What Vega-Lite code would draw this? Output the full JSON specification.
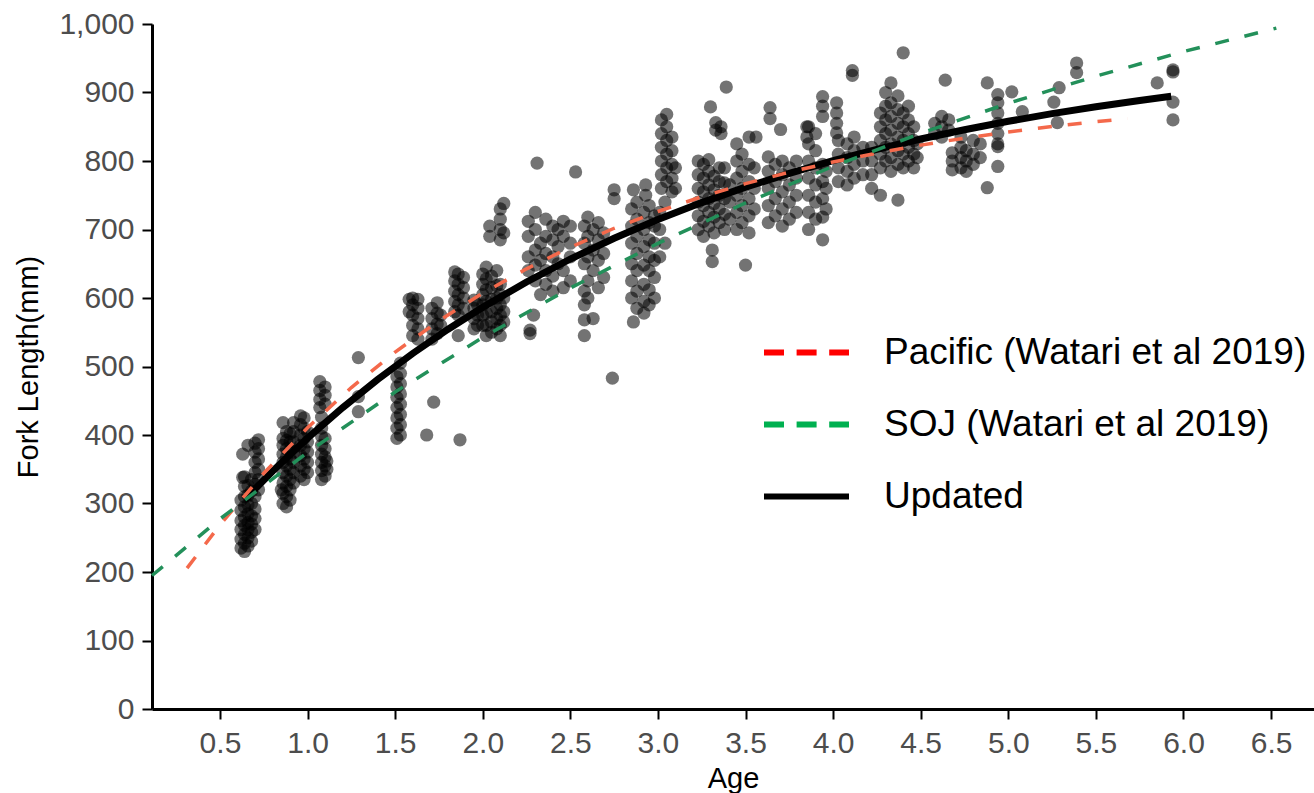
{
  "$schema": "https://vega.github.io/schema/vega-lite/v6.json",
  "autosize": {"type": "none"},
  "width": 1162,
  "height": 685,
  "padding": {"left": 152, "top": 24, "right": 0, "bottom": 84},
  "background": "white",
  "config": {
    "view": {"stroke": null},
    "font": "Liberation Sans",
    "axis": {
      "grid": false,
      "domainColor": "#000000",
      "domainWidth": 3,
      "tickColor": "#000000",
      "tickWidth": 2,
      "tickSize": 10,
      "labelFont": "Liberation Sans",
      "labelFontSize": 30,
      "labelColor": "#4D4D4D",
      "labelPadding": 8,
      "titleFont": "Liberation Sans",
      "titleFontSize": 29,
      "titleFontWeight": "normal",
      "titleColor": "#000000"
    }
  },
  "datasets": {
    "pts": [
      {"age":0.62,"fl":235},{"age":0.62,"fl":248},{"age":0.62,"fl":262},{"age":0.62,"fl":275},{"age":0.62,"fl":290},{"age":0.62,"fl":305},
      {"age":0.63,"fl":338},{"age":0.63,"fl":372},
      {"age":0.64,"fl":230},{"age":0.64,"fl":242},{"age":0.64,"fl":255},{"age":0.64,"fl":268},{"age":0.64,"fl":280},{"age":0.64,"fl":295},{"age":0.64,"fl":310},{"age":0.64,"fl":325},{"age":0.64,"fl":339},
      {"age":0.66,"fl":238},{"age":0.66,"fl":250},{"age":0.66,"fl":262},{"age":0.66,"fl":272},{"age":0.66,"fl":285},{"age":0.66,"fl":298},{"age":0.66,"fl":312},{"age":0.66,"fl":326},{"age":0.66,"fl":385},
      {"age":0.68,"fl":245},{"age":0.68,"fl":258},{"age":0.68,"fl":270},{"age":0.68,"fl":282},{"age":0.68,"fl":300},{"age":0.68,"fl":318},{"age":0.68,"fl":335},
      {"age":0.70,"fl":262},{"age":0.70,"fl":278},{"age":0.70,"fl":292},{"age":0.70,"fl":310},{"age":0.70,"fl":328},{"age":0.70,"fl":345},{"age":0.70,"fl":360},{"age":0.70,"fl":375},{"age":0.70,"fl":388},
      {"age":0.72,"fl":320},{"age":0.72,"fl":335},{"age":0.72,"fl":350},{"age":0.72,"fl":365},{"age":0.72,"fl":380},{"age":0.72,"fl":393},
      {"age":0.85,"fl":320},
      {"age":0.86,"fl":300},{"age":0.86,"fl":315},{"age":0.86,"fl":330},{"age":0.86,"fl":345},{"age":0.86,"fl":360},{"age":0.86,"fl":372},{"age":0.86,"fl":385},{"age":0.86,"fl":395},{"age":0.86,"fl":418},
      {"age":0.88,"fl":295},{"age":0.88,"fl":310},{"age":0.88,"fl":325},{"age":0.88,"fl":340},{"age":0.88,"fl":355},{"age":0.88,"fl":368},{"age":0.88,"fl":380},{"age":0.88,"fl":392},{"age":0.88,"fl":405},
      {"age":0.90,"fl":305},{"age":0.90,"fl":320},{"age":0.90,"fl":335},{"age":0.90,"fl":350},{"age":0.90,"fl":365},{"age":0.90,"fl":378},{"age":0.90,"fl":390},{"age":0.90,"fl":402},
      {"age":0.92,"fl":330},{"age":0.92,"fl":345},{"age":0.92,"fl":360},{"age":0.92,"fl":375},{"age":0.92,"fl":390},{"age":0.92,"fl":405},{"age":0.92,"fl":418},
      {"age":0.96,"fl":340},{"age":0.96,"fl":355},{"age":0.96,"fl":370},{"age":0.96,"fl":385},{"age":0.96,"fl":400},{"age":0.96,"fl":415},{"age":0.96,"fl":428},
      {"age":0.98,"fl":335},{"age":0.98,"fl":350},{"age":0.98,"fl":365},{"age":0.98,"fl":380},{"age":0.98,"fl":395},{"age":0.98,"fl":410},{"age":0.98,"fl":425},
      {"age":1.00,"fl":345},{"age":1.00,"fl":360},{"age":1.00,"fl":375},{"age":1.00,"fl":390},{"age":1.00,"fl":405},
      {"age":1.07,"fl":440},{"age":1.07,"fl":452},{"age":1.07,"fl":465},{"age":1.07,"fl":478},
      {"age":1.08,"fl":335},{"age":1.08,"fl":348},{"age":1.08,"fl":360},{"age":1.08,"fl":372},{"age":1.08,"fl":385},{"age":1.08,"fl":398},{"age":1.08,"fl":410},{"age":1.08,"fl":426},
      {"age":1.10,"fl":445},{"age":1.10,"fl":458},{"age":1.10,"fl":470},{"age":1.10,"fl":340},{"age":1.10,"fl":355},{"age":1.10,"fl":368},{"age":1.10,"fl":380},{"age":1.10,"fl":395},
      {"age":1.11,"fl":350},{"age":1.11,"fl":362},
      {"age":1.29,"fl":513},{"age":1.29,"fl":456},{"age":1.29,"fl":434},
      {"age":1.51,"fl":395},{"age":1.51,"fl":410},{"age":1.51,"fl":425},{"age":1.51,"fl":440},{"age":1.51,"fl":455},{"age":1.51,"fl":470},{"age":1.51,"fl":485},
      {"age":1.53,"fl":400},{"age":1.53,"fl":415},{"age":1.53,"fl":430},{"age":1.53,"fl":445},{"age":1.53,"fl":460},{"age":1.53,"fl":475},{"age":1.53,"fl":490},{"age":1.53,"fl":505},
      {"age":1.58,"fl":598},{"age":1.58,"fl":580},
      {"age":1.60,"fl":545},{"age":1.60,"fl":560},{"age":1.60,"fl":575},{"age":1.60,"fl":590},{"age":1.60,"fl":600},
      {"age":1.63,"fl":540},{"age":1.63,"fl":555},{"age":1.63,"fl":570},{"age":1.63,"fl":585},{"age":1.63,"fl":598},
      {"age":1.68,"fl":400},
      {"age":1.71,"fl":540},{"age":1.71,"fl":555},{"age":1.71,"fl":570},{"age":1.71,"fl":585},
      {"age":1.72,"fl":448},
      {"age":1.74,"fl":548},{"age":1.74,"fl":562},{"age":1.74,"fl":578},{"age":1.74,"fl":593},
      {"age":1.76,"fl":560},{"age":1.76,"fl":575},
      {"age":1.84,"fl":580},{"age":1.84,"fl":595},{"age":1.84,"fl":610},{"age":1.84,"fl":625},{"age":1.84,"fl":638},
      {"age":1.86,"fl":575},{"age":1.86,"fl":590},{"age":1.86,"fl":605},{"age":1.86,"fl":620},{"age":1.86,"fl":635},{"age":1.86,"fl":545},
      {"age":1.87,"fl":393},
      {"age":1.89,"fl":585},{"age":1.89,"fl":600},{"age":1.89,"fl":615},{"age":1.89,"fl":630},
      {"age":1.95,"fl":555},{"age":1.95,"fl":570},{"age":1.95,"fl":585},{"age":1.95,"fl":597},
      {"age":1.97,"fl":560},{"age":1.97,"fl":575},{"age":1.97,"fl":590},
      {"age":2.00,"fl":560},{"age":2.00,"fl":575},{"age":2.00,"fl":590},{"age":2.00,"fl":605},{"age":2.00,"fl":620},{"age":2.00,"fl":635},
      {"age":2.02,"fl":545},{"age":2.02,"fl":560},{"age":2.02,"fl":578},{"age":2.02,"fl":595},{"age":2.02,"fl":612},{"age":2.02,"fl":628},{"age":2.02,"fl":645},
      {"age":2.04,"fl":690},{"age":2.04,"fl":705},
      {"age":2.05,"fl":550},{"age":2.05,"fl":565},{"age":2.05,"fl":580},{"age":2.05,"fl":598},{"age":2.05,"fl":615},{"age":2.05,"fl":632},
      {"age":2.08,"fl":555},{"age":2.08,"fl":570},{"age":2.08,"fl":585},{"age":2.08,"fl":600},{"age":2.08,"fl":618},{"age":2.08,"fl":640},
      {"age":2.10,"fl":545},{"age":2.10,"fl":560},{"age":2.10,"fl":575},{"age":2.10,"fl":590},{"age":2.10,"fl":605},{"age":2.10,"fl":620},{"age":2.10,"fl":685},{"age":2.10,"fl":700},{"age":2.10,"fl":715},{"age":2.10,"fl":730},
      {"age":2.12,"fl":565},{"age":2.12,"fl":580},{"age":2.12,"fl":600},{"age":2.12,"fl":695},{"age":2.12,"fl":738},
      {"age":2.26,"fl":640},{"age":2.26,"fl":660},{"age":2.26,"fl":690},{"age":2.26,"fl":712},
      {"age":2.27,"fl":553},{"age":2.27,"fl":548},
      {"age":2.29,"fl":575},
      {"age":2.30,"fl":625},{"age":2.30,"fl":648},{"age":2.30,"fl":670},{"age":2.30,"fl":700},{"age":2.30,"fl":725},
      {"age":2.31,"fl":797},
      {"age":2.33,"fl":605},{"age":2.33,"fl":655},{"age":2.33,"fl":680},
      {"age":2.36,"fl":620},{"age":2.36,"fl":640},{"age":2.36,"fl":665},{"age":2.36,"fl":690},{"age":2.36,"fl":715},
      {"age":2.40,"fl":610},{"age":2.40,"fl":632},{"age":2.40,"fl":660},{"age":2.40,"fl":685},{"age":2.40,"fl":705},
      {"age":2.43,"fl":650},{"age":2.43,"fl":675},{"age":2.43,"fl":700},
      {"age":2.46,"fl":615},{"age":2.46,"fl":640},{"age":2.46,"fl":690},{"age":2.46,"fl":712},
      {"age":2.50,"fl":625},{"age":2.50,"fl":660},{"age":2.50,"fl":680},{"age":2.50,"fl":705},
      {"age":2.53,"fl":784},
      {"age":2.58,"fl":545},{"age":2.58,"fl":568},{"age":2.58,"fl":590},{"age":2.58,"fl":610},{"age":2.58,"fl":650},{"age":2.58,"fl":680},{"age":2.58,"fl":705},
      {"age":2.60,"fl":600},{"age":2.60,"fl":625},{"age":2.60,"fl":660},{"age":2.60,"fl":690},{"age":2.60,"fl":718},
      {"age":2.63,"fl":570},{"age":2.63,"fl":640},{"age":2.63,"fl":670},{"age":2.63,"fl":700},
      {"age":2.66,"fl":615},{"age":2.66,"fl":655},{"age":2.66,"fl":685},{"age":2.66,"fl":710},
      {"age":2.69,"fl":630},{"age":2.69,"fl":665},{"age":2.69,"fl":695},
      {"age":2.74,"fl":483},
      {"age":2.75,"fl":758},{"age":2.75,"fl":745},
      {"age":2.85,"fl":600},{"age":2.85,"fl":625},{"age":2.85,"fl":650},{"age":2.85,"fl":680},{"age":2.85,"fl":705},{"age":2.85,"fl":730},
      {"age":2.86,"fl":758},{"age":2.86,"fl":565},
      {"age":2.88,"fl":585},{"age":2.88,"fl":610},{"age":2.88,"fl":640},{"age":2.88,"fl":665},{"age":2.88,"fl":690},{"age":2.88,"fl":715},{"age":2.88,"fl":740},
      {"age":2.92,"fl":578},{"age":2.92,"fl":595},{"age":2.92,"fl":620},{"age":2.92,"fl":648},{"age":2.92,"fl":675},{"age":2.92,"fl":700},{"age":2.92,"fl":725},
      {"age":2.93,"fl":750},{"age":2.93,"fl":765},
      {"age":2.95,"fl":590},{"age":2.95,"fl":612},{"age":2.95,"fl":640},{"age":2.95,"fl":660},{"age":2.95,"fl":685},{"age":2.95,"fl":710},{"age":2.95,"fl":735},
      {"age":2.98,"fl":600},{"age":2.98,"fl":630},{"age":2.98,"fl":655},{"age":2.98,"fl":680},{"age":2.98,"fl":705},{"age":2.98,"fl":720},
      {"age":3.01,"fl":660},{"age":3.01,"fl":700},{"age":3.01,"fl":725},
      {"age":3.02,"fl":760},{"age":3.02,"fl":780},{"age":3.02,"fl":800},{"age":3.02,"fl":820},{"age":3.02,"fl":840},{"age":3.02,"fl":860},
      {"age":3.04,"fl":680},{"age":3.04,"fl":740},
      {"age":3.05,"fl":770},{"age":3.05,"fl":790},{"age":3.05,"fl":810},{"age":3.05,"fl":830},{"age":3.05,"fl":850},{"age":3.05,"fl":868},
      {"age":3.08,"fl":755},{"age":3.08,"fl":775},{"age":3.08,"fl":795},{"age":3.08,"fl":815},{"age":3.08,"fl":835},
      {"age":3.10,"fl":760},{"age":3.10,"fl":790},
      {"age":3.23,"fl":700},{"age":3.23,"fl":720},{"age":3.23,"fl":740},{"age":3.23,"fl":760},{"age":3.23,"fl":780},{"age":3.23,"fl":800},
      {"age":3.26,"fl":690},{"age":3.26,"fl":712},{"age":3.26,"fl":735},{"age":3.26,"fl":755},{"age":3.26,"fl":775},{"age":3.26,"fl":795},
      {"age":3.29,"fl":705},{"age":3.29,"fl":725},{"age":3.29,"fl":745},{"age":3.29,"fl":765},{"age":3.29,"fl":785},{"age":3.29,"fl":802},
      {"age":3.30,"fl":879},
      {"age":3.31,"fl":670},{"age":3.31,"fl":653},
      {"age":3.32,"fl":695},{"age":3.32,"fl":718},{"age":3.32,"fl":738},{"age":3.32,"fl":758},{"age":3.32,"fl":778},
      {"age":3.33,"fl":856},{"age":3.33,"fl":845},
      {"age":3.35,"fl":710},{"age":3.35,"fl":730},{"age":3.35,"fl":750},{"age":3.35,"fl":770},{"age":3.35,"fl":790},
      {"age":3.36,"fl":840},{"age":3.36,"fl":850},
      {"age":3.38,"fl":700},{"age":3.38,"fl":722},{"age":3.38,"fl":745},{"age":3.38,"fl":768},{"age":3.38,"fl":790},
      {"age":3.39,"fl":908},
      {"age":3.41,"fl":715},{"age":3.41,"fl":740},{"age":3.41,"fl":765},
      {"age":3.45,"fl":700},{"age":3.45,"fl":725},{"age":3.45,"fl":750},{"age":3.45,"fl":775},{"age":3.45,"fl":800},{"age":3.45,"fl":825},
      {"age":3.48,"fl":710},{"age":3.48,"fl":735},{"age":3.48,"fl":760},{"age":3.48,"fl":785},{"age":3.48,"fl":810},
      {"age":3.50,"fl":648},
      {"age":3.52,"fl":695},{"age":3.52,"fl":720},{"age":3.52,"fl":745},{"age":3.52,"fl":770},{"age":3.52,"fl":795},{"age":3.52,"fl":835},
      {"age":3.55,"fl":730},{"age":3.55,"fl":760},{"age":3.55,"fl":790},
      {"age":3.56,"fl":835},
      {"age":3.63,"fl":710},{"age":3.63,"fl":735},{"age":3.63,"fl":760},{"age":3.63,"fl":785},{"age":3.63,"fl":806},
      {"age":3.64,"fl":878},{"age":3.64,"fl":862},
      {"age":3.67,"fl":720},{"age":3.67,"fl":745},{"age":3.67,"fl":770},{"age":3.67,"fl":795},
      {"age":3.70,"fl":846},
      {"age":3.71,"fl":705},{"age":3.71,"fl":730},{"age":3.71,"fl":755},{"age":3.71,"fl":780},{"age":3.71,"fl":800},
      {"age":3.75,"fl":715},{"age":3.75,"fl":740},{"age":3.75,"fl":765},{"age":3.75,"fl":790},
      {"age":3.79,"fl":725},{"age":3.79,"fl":750},{"age":3.79,"fl":775},{"age":3.79,"fl":800},
      {"age":3.85,"fl":850},{"age":3.85,"fl":835},
      {"age":3.86,"fl":700},{"age":3.86,"fl":725},{"age":3.86,"fl":750},{"age":3.86,"fl":775},{"age":3.86,"fl":800},{"age":3.86,"fl":825},{"age":3.86,"fl":850},
      {"age":3.90,"fl":715},{"age":3.90,"fl":740},{"age":3.90,"fl":765},{"age":3.90,"fl":790},{"age":3.90,"fl":815},{"age":3.90,"fl":840},
      {"age":3.94,"fl":685},{"age":3.94,"fl":718},{"age":3.94,"fl":745},{"age":3.94,"fl":770},{"age":3.94,"fl":795},{"age":3.94,"fl":865},{"age":3.94,"fl":880},{"age":3.94,"fl":894},
      {"age":3.96,"fl":730},{"age":3.96,"fl":760},{"age":3.96,"fl":785},
      {"age":4.02,"fl":841},{"age":4.02,"fl":855},{"age":4.02,"fl":870},{"age":4.02,"fl":885},
      {"age":4.03,"fl":770},{"age":4.03,"fl":790},{"age":4.03,"fl":810},{"age":4.03,"fl":830},
      {"age":4.08,"fl":765},{"age":4.08,"fl":785},{"age":4.08,"fl":805},{"age":4.08,"fl":825},
      {"age":4.11,"fl":925},{"age":4.11,"fl":932},
      {"age":4.12,"fl":775},{"age":4.12,"fl":795},{"age":4.12,"fl":815},{"age":4.12,"fl":835},
      {"age":4.17,"fl":780},{"age":4.17,"fl":800},{"age":4.17,"fl":820},
      {"age":4.22,"fl":760},{"age":4.22,"fl":780},{"age":4.22,"fl":800},{"age":4.22,"fl":820},
      {"age":4.27,"fl":750},{"age":4.27,"fl":790},{"age":4.27,"fl":810},{"age":4.27,"fl":830},{"age":4.27,"fl":850},{"age":4.27,"fl":870},
      {"age":4.30,"fl":800},{"age":4.30,"fl":820},{"age":4.30,"fl":840},{"age":4.30,"fl":860},{"age":4.30,"fl":880},{"age":4.30,"fl":900},
      {"age":4.33,"fl":785},{"age":4.33,"fl":805},{"age":4.33,"fl":825},{"age":4.33,"fl":845},{"age":4.33,"fl":865},{"age":4.33,"fl":885},{"age":4.33,"fl":914},
      {"age":4.37,"fl":743},{"age":4.37,"fl":795},{"age":4.37,"fl":815},{"age":4.37,"fl":835},{"age":4.37,"fl":855},{"age":4.37,"fl":875},{"age":4.37,"fl":895},
      {"age":4.40,"fl":790},{"age":4.40,"fl":810},{"age":4.40,"fl":830},{"age":4.40,"fl":850},{"age":4.40,"fl":870},{"age":4.40,"fl":958},
      {"age":4.43,"fl":800},{"age":4.43,"fl":820},{"age":4.43,"fl":840},{"age":4.43,"fl":860},{"age":4.43,"fl":880},
      {"age":4.46,"fl":790},{"age":4.46,"fl":810},{"age":4.46,"fl":830},{"age":4.46,"fl":850},
      {"age":4.48,"fl":805},{"age":4.48,"fl":825},
      {"age":4.58,"fl":840},{"age":4.58,"fl":855},
      {"age":4.62,"fl":835},{"age":4.62,"fl":850},{"age":4.62,"fl":865},
      {"age":4.64,"fl":918},
      {"age":4.66,"fl":845},{"age":4.66,"fl":860},
      {"age":4.68,"fl":812},{"age":4.68,"fl":787},{"age":4.68,"fl":800},
      {"age":4.73,"fl":790},{"age":4.73,"fl":805},{"age":4.73,"fl":820},{"age":4.73,"fl":835},
      {"age":4.76,"fl":785},{"age":4.76,"fl":800},{"age":4.76,"fl":815},
      {"age":4.80,"fl":795},{"age":4.80,"fl":810},{"age":4.80,"fl":830},
      {"age":4.84,"fl":805},{"age":4.84,"fl":825},
      {"age":4.88,"fl":914},{"age":4.88,"fl":761},
      {"age":4.94,"fl":825},{"age":4.94,"fl":840},{"age":4.94,"fl":855},{"age":4.94,"fl":870},{"age":4.94,"fl":885},{"age":4.94,"fl":897},{"age":4.94,"fl":792},{"age":4.94,"fl":821},
      {"age":5.02,"fl":901},
      {"age":5.08,"fl":872},
      {"age":5.26,"fl":886},
      {"age":5.28,"fl":856},
      {"age":5.29,"fl":907},
      {"age":5.39,"fl":943},{"age":5.39,"fl":929},
      {"age":5.85,"fl":914},
      {"age":5.94,"fl":933},{"age":5.94,"fl":930},{"age":5.94,"fl":886},{"age":5.94,"fl":860}
    ],
    "curves": [
      {"model":"Pacific (Watari et al 2019)","age":0.312,"fl":205.6},
      {"model":"Pacific (Watari et al 2019)","age":0.5,"fl":268.7},
      {"model":"Pacific (Watari et al 2019)","age":0.75,"fl":344.1},
      {"model":"Pacific (Watari et al 2019)","age":1.0,"fl":410.6},
      {"model":"Pacific (Watari et al 2019)","age":1.25,"fl":469.3},
      {"model":"Pacific (Watari et al 2019)","age":1.5,"fl":521.1},
      {"model":"Pacific (Watari et al 2019)","age":1.75,"fl":566.8},
      {"model":"Pacific (Watari et al 2019)","age":2.0,"fl":607.1},
      {"model":"Pacific (Watari et al 2019)","age":2.25,"fl":642.6},
      {"model":"Pacific (Watari et al 2019)","age":2.5,"fl":674.1},
      {"model":"Pacific (Watari et al 2019)","age":2.75,"fl":701.8},
      {"model":"Pacific (Watari et al 2019)","age":3.0,"fl":726.3},
      {"model":"Pacific (Watari et al 2019)","age":3.25,"fl":747.8},
      {"model":"Pacific (Watari et al 2019)","age":3.5,"fl":766.9},
      {"model":"Pacific (Watari et al 2019)","age":3.75,"fl":783.7},
      {"model":"Pacific (Watari et al 2019)","age":4.0,"fl":798.5},
      {"model":"Pacific (Watari et al 2019)","age":4.25,"fl":811.6},
      {"model":"Pacific (Watari et al 2019)","age":4.5,"fl":823.2},
      {"model":"Pacific (Watari et al 2019)","age":4.75,"fl":833.4},
      {"model":"Pacific (Watari et al 2019)","age":5.0,"fl":842.4},
      {"model":"Pacific (Watari et al 2019)","age":5.25,"fl":850.3},
      {"model":"Pacific (Watari et al 2019)","age":5.5,"fl":857.4},
      {"model":"Pacific (Watari et al 2019)","age":5.68,"fl":861.9},
      {"model":"SOJ (Watari et al 2019)","age":0.112,"fl":194.9},
      {"model":"SOJ (Watari et al 2019)","age":0.5,"fl":277.4},
      {"model":"SOJ (Watari et al 2019)","age":1.0,"fl":374.7},
      {"model":"SOJ (Watari et al 2019)","age":1.5,"fl":462.8},
      {"model":"SOJ (Watari et al 2019)","age":2.0,"fl":542.5},
      {"model":"SOJ (Watari et al 2019)","age":2.5,"fl":614.5},
      {"model":"SOJ (Watari et al 2019)","age":3.0,"fl":679.8},
      {"model":"SOJ (Watari et al 2019)","age":3.5,"fl":738.8},
      {"model":"SOJ (Watari et al 2019)","age":4.0,"fl":792.2},
      {"model":"SOJ (Watari et al 2019)","age":4.5,"fl":840.5},
      {"model":"SOJ (Watari et al 2019)","age":5.0,"fl":884.2},
      {"model":"SOJ (Watari et al 2019)","age":5.5,"fl":923.8},
      {"model":"SOJ (Watari et al 2019)","age":6.0,"fl":959.7},
      {"model":"SOJ (Watari et al 2019)","age":6.53,"fl":993.9},
      {"model":"Updated","age":0.643,"fl":306.3},
      {"model":"Updated","age":0.8,"fl":347.1},
      {"model":"Updated","age":1.0,"fl":395.4},
      {"model":"Updated","age":1.2,"fl":439.9},
      {"model":"Updated","age":1.4,"fl":481.0},
      {"model":"Updated","age":1.6,"fl":519.0},
      {"model":"Updated","age":1.8,"fl":554.1},
      {"model":"Updated","age":2.0,"fl":586.5},
      {"model":"Updated","age":2.25,"fl":623.4},
      {"model":"Updated","age":2.5,"fl":656.9},
      {"model":"Updated","age":2.75,"fl":687.2},
      {"model":"Updated","age":3.0,"fl":714.6},
      {"model":"Updated","age":3.25,"fl":739.3},
      {"model":"Updated","age":3.5,"fl":761.8},
      {"model":"Updated","age":3.75,"fl":782.0},
      {"model":"Updated","age":4.0,"fl":800.4},
      {"model":"Updated","age":4.25,"fl":817.0},
      {"model":"Updated","age":4.5,"fl":832.1},
      {"model":"Updated","age":4.75,"fl":845.6},
      {"model":"Updated","age":5.0,"fl":858.0},
      {"model":"Updated","age":5.25,"fl":869.1},
      {"model":"Updated","age":5.5,"fl":879.2},
      {"model":"Updated","age":5.75,"fl":888.3},
      {"model":"Updated","age":5.93,"fl":894.4}
    ]
  },
  "encoding": {
    "x": {
      "field": "age", "type": "quantitative",
      "scale": {"domain": [0.112, 6.745], "nice": false, "zero": false},
      "axis": {"values": [0.5,1,1.5,2,2.5,3,3.5,4,4.5,5,5.5,6,6.5], "format": ".1f", "title": "Age", "titlePadding": 6, "labelPadding": 9}
    },
    "y": {
      "field": "fl", "type": "quantitative",
      "scale": {"domain": [0, 1000], "nice": false},
      "axis": {"values": [0,100,200,300,400,500,600,700,800,900,1000], "format": ",.0f", "title": "Fork Length(mm)", "titlePadding": 15}
    }
  },
  "layer": [
    {
      "data": {"name": "pts"},
      "mark": {"type": "circle", "size": 175, "color": "#000000", "opacity": 0.55}
    },
    {
      "data": {"name": "curves"},
      "transform": [{"filter": "datum.model === 'Updated'"}],
      "mark": {"type": "line", "color": "#000000", "strokeWidth": 7, "strokeCap": "butt"}
    },
    {
      "data": {"name": "curves"},
      "transform": [{"filter": "datum.model === 'Pacific (Watari et al 2019)'"}],
      "mark": {"type": "line", "color": "#F4694B", "strokeWidth": 3.5, "strokeDash": [14, 16]}
    },
    {
      "data": {"name": "curves"},
      "transform": [{"filter": "datum.model === 'SOJ (Watari et al 2019)'"}],
      "mark": {"type": "line", "color": "#23905A", "strokeWidth": 3.5, "strokeDash": [14, 16]}
    },
    {
      "data": {"name": "curves"},
      "mark": {"type": "line", "opacity": 0},
      "encoding": {
        "stroke": {
          "field": "model", "type": "nominal",
          "scale": {"domain": ["Pacific (Watari et al 2019)", "SOJ (Watari et al 2019)", "Updated"], "range": ["#FF0000", "#00B050", "#000000"]},
          "legend": {
            "title": null, "orient": "none", "legendX": 609, "legendY": 283,
            "symbolType": "stroke", "symbolSize": 7225, "symbolStrokeWidth": 6, "symbolOpacity": 1,
            "labelFont": "Liberation Sans", "labelFontSize": 37, "labelColor": "#000000", "labelOffset": 32, "labelLimit": 700,
            "rowPadding": 8
          }
        },
        "strokeDash": {
          "field": "model", "type": "nominal",
          "scale": {"domain": ["Pacific (Watari et al 2019)", "SOJ (Watari et al 2019)", "Updated"], "range": [[20, 12.6], [20, 12.6], [1, 0]]},
          "legend": {
            "title": null, "orient": "none", "legendX": 609, "legendY": 283,
            "symbolType": "stroke", "symbolSize": 7225, "symbolStrokeWidth": 6, "symbolOpacity": 1,
            "labelFont": "Liberation Sans", "labelFontSize": 37, "labelColor": "#000000", "labelOffset": 32, "labelLimit": 700,
            "rowPadding": 8
          }
        }
      }
    }
  ]
}
